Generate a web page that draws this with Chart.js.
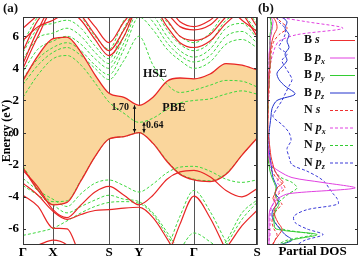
<!DOCTYPE html>
<html>
<head>
<meta charset="utf-8">
<script src="https://cdn.jsdelivr.net/npm/chart.js@4.4.0/dist/chart.umd.min.js"></script>
<style>
  html, body { margin: 0; padding: 0; background: #fff; }
  #wrap { position: relative; width: 362px; height: 258px; overflow: hidden; }
  #bands { position: absolute; left: 0; top: 0; }
  #dos { position: absolute; left: 255px; top: 0; }
</style>
</head>
<body>
<div id="wrap">
  <canvas id="bands" width="262" height="258"></canvas>
  <canvas id="dos" width="107" height="258"></canvas>
</div>
<script>
// ---- k-path ----
const KPTS = [0, 15, 30, 44, 58, 72, 86, 101, 116, 130, 144, 157, 171, 187, 203, 219, 234];
const KPOS = [0, 30, 86, 116, 171, 234];
const KLABELS = ['Γ', 'X', 'S', 'Y', 'Γ', 'S'];
const YTICKS = [-6, -4, -2, 0, 2, 4, 6];
const GAP_HSE = 1.70;
const GAP_PBE = 0.64;

// ---- HSE bands (red solid) ----
const HSE_VB1 = [-2.2, -3.6, -4.5, -4.35, -3.0, -1.5, -0.4, -0.25, 0, -0.67, -1.8, -2.6, -2.95, -3.05, -2.6, -1.4, -0.35];
const HSE_CB1 = [3.25, 4.8, 5.85, 5.95, 5.0, 3.6, 2.45, 2.2, 1.7, 2.2, 3.2, 3.4, 3.35, 3.65, 4.3, 4.2, 3.9];
const HSE_VAL = [
  [-2.35, -3.4, -4.8, -5.3, -4.5, -3.7, -3.35, -3.9, -4.5, -3.9, -2.9, -2.45, -2.35, -2.75, -3.6, -4.0, -3.5],
  [-3.15, -3.9, -4.9, -5.4, -5.1, -4.85, -4.8, -4.7, -4.65, -5.3, -6.6, -7.9, -8.5, -8.2, -7.2, -5.8, -4.85],
  [null, null, null, null, null, null, null, null, null, -9.5, -7.8, -5.7, -3.95, -5.3, -7.3, -9.0, -9.5],
  [-3.9, -4.6, -5.95, -6.0, -7.8, -9.0, null, null, null, null, null, null, null, null, null, null, null],
  [-7.2, -7.0, -6.7, -7.0, -8.0, -9.0, null, null, null, null, null, null, null, null, null, null, null]
];
const HSE_CON = [
  [4.0, 6.0, 7.6, 7.6, 7.0, 5.8, 4.8, 6.0, 7.8, 7.8, 6.6, 5.6, 5.3, 5.7, 6.8, 7.6, 7.8],
  [4.3, 6.4, 7.8, 7.8, 7.3, 6.1, 5.1, 6.4, 7.8, 7.8, 7.0, 6.0, 5.75, 6.1, 7.2, 7.8, 7.8],
  [5.1, 7.0, 7.8, 7.8, 7.6, 6.6, 5.6, 6.9, 7.8, 7.8, 7.4, 6.6, 6.4, 6.7, 7.6, 7.8, 6.6],
  [5.75, 6.6, 7.0, 7.5, 7.8, 7.8, 7.8, 7.8, 7.8, 7.8, 7.8, 6.9, 6.6, 7.0, 7.8, 7.4, 6.0],
  [6.5, 7.3, 7.8, 7.8, 7.8, 7.8, 7.8, 7.8, 7.8, 7.8, 7.8, 7.8, 7.8, 7.8, 7.8, 7.0, 6.3]
];

// ---- PBE bands (green dashed) ----
const PBE_VAL = [
  [-2.1, -3.5, -4.3, -4.25, -2.95, -1.5, -0.4, -0.25, 0, -0.65, -1.75, -2.55, -2.9, -3.0, -2.55, -1.4, -0.35],
  [-2.85, -3.6, -4.15, -4.6, -3.8, -3.15, -2.95, -3.3, -3.7, -3.2, -2.5, -2.15, -2.1, -2.4, -2.9, -3.1, -2.95],
  [-3.3, -3.9, -4.5, -5.0, -4.6, -4.2, -3.9, -4.15, -4.3, -5.0, -6.2, -7.4, -8.5, -8.2, -6.8, -5.0, -4.2],
  [null, null, null, null, null, null, null, null, null, -9.0, -7.3, -5.2, -3.6, -4.9, -6.8, -8.5, -9.0],
  [null, null, null, null, null, null, null, null, null, null, -8.5, -7.3, -6.25, -6.8, -7.6, -8.5, null],
  [-6.4, -6.2, -5.95, -5.5, -5.0, -4.6, -4.35, -4.3, -4.4, -5.1, -6.4, -7.6, -8.6, -8.4, -7.0, -5.4, -4.35]
];
const PBE_CON = [
  [2.2, 3.6, 4.6, 4.8, 4.2, 3.1, 1.9, 1.2, 0.64, 0.9, 1.45, 1.85, 2.0, 2.1, 2.4, 2.6, 2.4],
  [3.0, 4.2, 5.0, 5.3, 4.8, 4.0, 3.3, 4.5, 6.0, 4.2, 3.0, 2.5, 2.65, 2.95, 3.25, 3.2, 2.85],
  [3.4, 4.6, 5.3, 5.6, 5.1, 4.2, 3.6, 5.2, 7.2, 6.4, 5.2, 4.5, 4.0, 4.4, 5.5, 5.8, 5.3],
  [3.8, 5.2, 5.7, 6.0, 5.5, 4.6, 4.0, 5.6, 7.6, 6.9, 5.6, 4.8, 4.4, 4.8, 6.0, 6.3, 5.6],
  [4.6, 5.9, 6.2, 6.5, 6.0, 5.0, 4.3, 6.0, 7.8, 7.3, 6.0, 5.1, 4.7, 5.2, 6.5, 6.8, 5.9],
  [5.0, 6.5, 6.8, 7.0, 6.5, 5.4, 4.6, 6.5, 7.8, 7.7, 6.4, 5.5, 5.1, 5.6, 7.0, 7.3, 6.3],
  [5.6, 7.2, 7.6, 7.6, 7.2, 6.0, 5.2, 7.0, 7.8, 7.8, 6.9, 6.0, 5.6, 6.2, 7.5, 7.8, 6.8]
];

// ---- Partial DOS (arb. units) ----
const E_DOS = [7.2, 6.9, 6.5, 6.1, 5.7, 5.3, 4.9, 4.5, 4.1, 3.7, 3.3, 2.9, 2.4, 2.0, 1.5, 1.0, 0.5, 0.0,
  -0.5, -1.0, -1.5, -2.0, -2.4, -2.8, -3.1, -3.45, -3.8, -4.1, -4.45, -4.8, -5.2, -5.6, -6.0, -6.35, -6.7, -7.0];
const B_S  = [0.6, 0.9, 1.0, 0.7, 0.5, 0.4, 0.3, 0.3, 0.3, 0.2, 0.2, 0.2, 0.1, 0.1, 0.1, 0.1, 0.1, 0.1,
  0.2, 0.3, 0.4, 0.6, 0.8, 1.2, 1.6, 1.0, 0.8, 0.6, 0.9, 0.7, 0.8, 1.1, 1.5, 1.2, 0.8, 0.6];
const B_PX = [0.4, 0.6, 0.5, 0.4, 0.3, 0.3, 0.2, 0.2, 0.2, 0.2, 0.1, 0.1, 0.1, 0.1, 0, 0, 0, 0,
  0, 0.1, 0.2, 0.4, 1.2, 2.5, 5.5, 8.8, 2.2, 1.1, 0.6, 0.3, 0.2, 0.2, 0.2, 0.2, 0.2, 0.2];
const B_PY = [0.3, 0.4, 0.4, 0.3, 0.3, 0.3, 0.3, 0.3, 0.3, 0.2, 0.2, 0.2, 0.1, 0.1, 0.1, 0, 0, 0,
  0, 0, 0.1, 0.2, 0.3, 0.5, 0.7, 0.9, 0.8, 1.0, 1.2, 0.9, 0.7, 0.7, 0.9, 5.0, 2.4, 1.4];
const B_PZ = [1.5, 2.0, 1.8, 2.2, 2.0, 2.2, 1.8, 2.0, 1.5, 1.0, 1.2, 1.8, 2.8, 1.0, 0.5, 0.4, 0.3, 0.2,
  0.2, 0.2, 0.3, 0.4, 0.5, 0.6, 0.8, 1.0, 0.8, 1.2, 1.0, 0.6, 0.5, 0.8, 1.3, 1.8, 2.5, 1.2];
const N_S  = [0.8, 1.4, 2.0, 1.2, 0.7, 0.5, 0.4, 0.4, 0.3, 0.3, 0.2, 0.2, 0.2, 0.1, 0.1, 0.1, 0, 0,
  0, 0.1, 0.1, 0.2, 0.5, 0.9, 1.4, 1.8, 1.2, 0.8, 1.5, 1.0, 0.6, 0.5, 0.7, 1.0, 0.8, 0.5];
const N_PX = [1.0, 4.0, 7.6, 3.0, 1.2, 0.8, 0.6, 0.4, 0.3, 0.2, 0.2, 0.1, 0.1, 0.1, 0, 0, 0, 0,
  0.1, 0.1, 0.2, 0.5, 0.8, 1.2, 1.0, 1.5, 1.0, 0.8, 0.6, 0.4, 0.3, 0.3, 0.3, 0.3, 0.2, 0.2];
const N_PY = [0.3, 0.4, 0.5, 0.4, 0.3, 0.3, 0.3, 0.2, 0.2, 0.2, 0.2, 0.1, 0.1, 0.1, 0.1, 0, 0, 0,
  0, 0.1, 0.2, 0.4, 0.8, 1.4, 2.5, 3.0, 2.2, 1.6, 1.0, 0.8, 0.6, 0.8, 1.5, 4.5, 2.0, 1.0];
const N_PZ = [1.0, 1.2, 1.8, 1.8, 1.5, 1.2, 2.0, 1.5, 1.8, 2.2, 2.5, 2.2, 1.8, 1.5, 1.0, 0.6, 1.5, 2.2,
  2.4, 2.0, 2.2, 2.5, 4.0, 5.2, 5.8, 6.2, 6.6, 7.0, 7.1, 4.0, 2.7, 2.8, 4.0, 5.6, 3.8, 3.0];

const DOS_SERIES = [B_S, B_PX, B_PY, B_PZ, N_S, N_PX, N_PY, N_PZ];
const DOS_ATOM = ['B', 'B', 'B', 'B', 'N', 'N', 'N', 'N'];
const DOS_ORB = ['s', 'p', 'p', 'p', 's', 'p', 'p', 'p'];
const DOS_SUB = ['', 'x', 'y', 'z', '', 'x', 'y', 'z'];
const DOS_COLORS = ['#ee3030', '#e040e0', '#33cc33', '#2233cc', '#ee3030', '#e040e0', '#33cc33', '#3a3ad8'];

// ---- style ----
const SERIF = '"Liberation Serif", "DejaVu Serif", serif';
const RED = '#e82626';
const GREEN = '#3fd83f';
const FILL = 'rgb(250, 214, 156)';
const FRAME = '#333';

// ---- helpers ----
const pts = b => KPTS.map((k, i) => ({ x: k, y: b[i] }));
const bandDs = (b, color, dash, width) => ({
  data: pts(b), borderColor: color, borderWidth: width, borderDash: dash,
  pointRadius: 0, fill: false, cubicInterpolationMode: 'monotone', spanGaps: false
});

// frame + inward ticks, drawn on top
const framePlugin = {
  id: 'frame',
  afterDraw(chart) {
    const { ctx, chartArea: a, scales } = chart;
    ctx.save();
    ctx.strokeStyle = FRAME;
    ctx.lineWidth = 1;
    ctx.strokeRect(a.left + 0.5, a.top + 0.5, a.right - a.left - 1, a.bottom - a.top - 1);
    ctx.beginPath();
    for (const v of YTICKS) {
      const y = Math.round(scales.y.getPixelForValue(v)) + 0.5;
      ctx.moveTo(a.left, y); ctx.lineTo(a.left + 3, y);
      ctx.moveTo(a.right, y); ctx.lineTo(a.right - 3, y);
    }
    ctx.stroke();
    ctx.restore();
  }
};

function arrow(ctx, x, y1, y2) {
  ctx.beginPath();
  ctx.moveTo(x, y1); ctx.lineTo(x, y2);
  ctx.stroke();
  ctx.beginPath();
  ctx.moveTo(x, y1); ctx.lineTo(x - 1.8, y1 + 3.5); ctx.lineTo(x + 1.8, y1 + 3.5); ctx.closePath();
  ctx.moveTo(x, y2); ctx.lineTo(x - 1.8, y2 - 3.5); ctx.lineTo(x + 1.8, y2 - 3.5); ctx.closePath();
  ctx.fill();
}

const bandNotes = {
  id: 'bandNotes',
  afterDraw(chart) {
    const { ctx, scales: { x, y } } = chart;
    ctx.save();
    ctx.fillStyle = '#111';
    ctx.strokeStyle = '#111';
    ctx.lineWidth = 1;
    const xy = x.getPixelForValue(KPOS[3]);
    const y0 = y.getPixelForValue(0);
    arrow(ctx, xy - 4.5, y.getPixelForValue(GAP_HSE), y0);
    arrow(ctx, xy + 5, y.getPixelForValue(GAP_PBE), y0);
    ctx.font = `bold 10px ${SERIF}`;
    ctx.textBaseline = 'middle';
    ctx.textAlign = 'right';
    ctx.fillText(GAP_HSE.toFixed(2), xy - 10, y.getPixelForValue(GAP_HSE - 0.12));
    ctx.textAlign = 'left';
    ctx.fillText(GAP_PBE.toFixed(2), xy + 7, y.getPixelForValue(GAP_PBE / 2 + 0.1));
    ctx.font = `bold 12px ${SERIF}`;
    ctx.textAlign = 'center';
    ctx.fillText('HSE', x.getPixelForValue(132), y.getPixelForValue(3.68));
    ctx.fillText('PBE', x.getPixelForValue(151), y.getPixelForValue(1.53));
    ctx.font = `bold 13px ${SERIF}`;
    ctx.textAlign = 'left';
    ctx.fillText('(a)', 3, 9);
    ctx.restore();
  }
};

// ---- band structure ----
const bandSets = [
  bandDs(HSE_VB1, RED, [], 1.3),
  { ...bandDs(HSE_CB1, RED, [], 1.3), fill: '-1', backgroundColor: FILL },
  ...HSE_VAL.map(b => bandDs(b, RED, [], 1.2)),
  ...HSE_CON.map(b => bandDs(b, RED, [], 1.2)),
  ...PBE_VAL.map(b => bandDs(b, GREEN, [3, 2], 1)),
  ...PBE_CON.map(b => bandDs(b, GREEN, [3, 2], 1))
];

new Chart(document.getElementById('bands'), {
  type: 'line',
  data: { datasets: bandSets },
  options: {
    responsive: false,
    animation: false,
    layout: { padding: { left: 0, top: 17, right: 5, bottom: 0 } },
    plugins: {
      legend: { display: false },
      tooltip: { enabled: false },
      filler: { drawTime: 'beforeDatasetsDraw' }
    },
    scales: {
      x: {
        type: 'linear', min: 0, max: 234, z: 1,
        afterBuildTicks: s => { s.ticks = KPOS.map(v => ({ value: v })); },
        afterFit: s => { s.height = 13; },
        ticks: {
          callback: (v, i) => KLABELS[i], autoSkip: false, maxRotation: 0, padding: 1,
          color: '#000', font: { family: SERIF, size: 13, weight: 'bold', lineHeight: 1 }
        },
        grid: { color: '#555', lineWidth: 1, drawTicks: false },
        border: { display: false }
      },
      y: {
        min: -7, max: 7.2, z: 1,
        afterBuildTicks: s => { s.ticks = YTICKS.map(v => ({ value: v })); },
        afterFit: s => { s.width = 23; },
        ticks: { padding: 4, color: '#000', font: { family: SERIF, size: 13, weight: 'bold' } },
        grid: {
          color: c => (c.tick && c.tick.value === 0 ? '#222' : 'rgba(0,0,0,0)'),
          lineWidth: 1, drawTicks: false
        },
        border: { display: false },
        title: {
          display: true, text: 'Energy (eV)', color: '#000', padding: { top: 0, bottom: 0 },
          font: { family: SERIF, size: 12, weight: 'bold' }
        }
      }
    }
  },
  plugins: [framePlugin, bandNotes]
});

// ---- partial DOS ----
const dosLegend = {
  id: 'dosLegend',
  afterDraw(chart) {
    const { ctx, chartArea: a } = chart;
    ctx.save();
    ctx.fillStyle = '#111';
    ctx.textBaseline = 'middle';
    for (let i = 0; i < DOS_ATOM.length; i++) {
      const ty = 40 + i * 17.5;
      let tx = a.left + 37;
      ctx.font = `bold 12px ${SERIF}`;
      ctx.fillText(DOS_ATOM[i] + ' ', tx, ty);
      tx += ctx.measureText(DOS_ATOM[i] + ' ').width;
      ctx.font = `italic bold 12px ${SERIF}`;
      ctx.fillText(DOS_ORB[i], tx, ty);
      tx += ctx.measureText(DOS_ORB[i]).width;
      if (DOS_SUB[i]) {
        ctx.font = `italic bold 8px ${SERIF}`;
        ctx.fillText(DOS_SUB[i], tx, ty + 4);
      }
      ctx.strokeStyle = DOS_COLORS[i];
      ctx.lineWidth = 1;
      ctx.setLineDash(i < 4 ? [] : [3, 2]);
      ctx.beginPath();
      ctx.moveTo(a.left + 63, ty + 0.5);
      ctx.lineTo(a.left + 88, ty + 0.5);
      ctx.stroke();
    }
    ctx.setLineDash([]);
    ctx.font = `bold 13px ${SERIF}`;
    ctx.fillText('(b)', 3, 9);
    ctx.restore();
  }
};

new Chart(document.getElementById('dos'), {
  type: 'scatter',
  data: {
    datasets: DOS_SERIES.map((s, i) => ({
      data: E_DOS.map((e, j) => ({ x: s[j], y: e })),
      showLine: true, pointRadius: 0, borderWidth: 1, tension: 0.3,
      borderColor: DOS_COLORS[i], borderDash: i < 4 ? [] : [3, 2]
    }))
  },
  options: {
    responsive: false,
    animation: false,
    layout: { padding: { left: 12, top: 17, right: 4, bottom: 0 } },
    plugins: { legend: { display: false }, tooltip: { enabled: false } },
    scales: {
      x: {
        min: 0, max: 9.1,
        afterFit: s => { s.height = 13; },
        ticks: { display: false },
        grid: { display: false, drawTicks: false },
        border: { display: false },
        title: {
          display: true, text: 'Partial DOS', color: '#000', padding: 0,
          font: { family: SERIF, size: 13, weight: 'bold', lineHeight: 1 }
        }
      },
      y: { min: -7, max: 7.2, display: false }
    }
  },
  plugins: [framePlugin, dosLegend]
});
</script>
</body>
</html>
